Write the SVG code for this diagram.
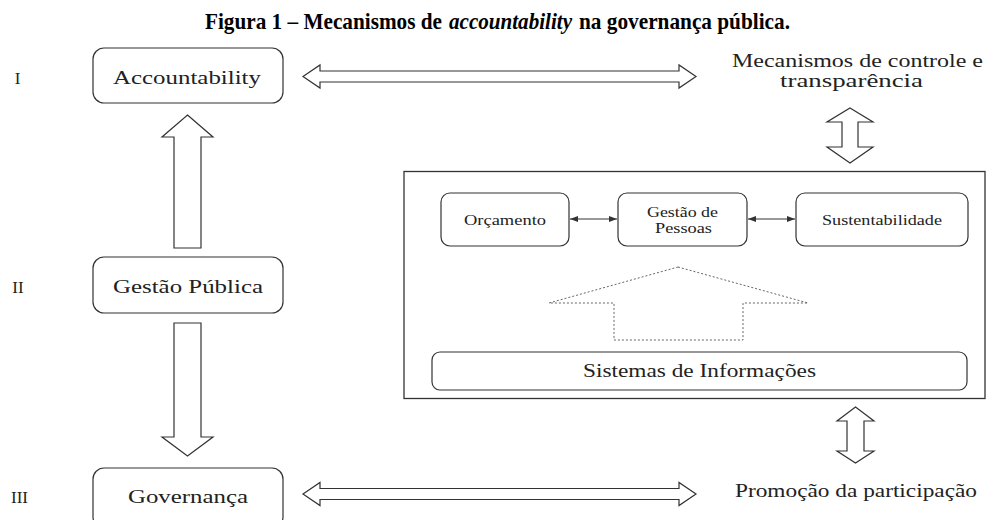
<svg xmlns="http://www.w3.org/2000/svg" width="992" height="520" viewBox="0 0 992 520">
<defs>
<style>
.t{font-family:"Liberation Serif","Times New Roman",serif;fill:#222;}
.ti{font-family:"Liberation Serif","Times New Roman",serif;fill:#000;font-size:23px;font-weight:bold;}
.box{fill:#fff;stroke:#333;stroke-width:1.2;}
.arr{fill:#fff;stroke:#333;stroke-width:1.2;stroke-linejoin:miter;}
.thin{stroke:#333;stroke-width:1;fill:none;}
.dot{fill:none;stroke:#666;stroke-width:1;stroke-dasharray:2 2;}
</style>
<marker id="ah" viewBox="0 0 8 6" refX="8" refY="3" markerWidth="8" markerHeight="6" markerUnits="userSpaceOnUse" orient="auto-start-reverse">
<path d="M0,0 L8,3 L0,6 Z" fill="#333"/>
</marker>
</defs>
<rect width="992" height="520" fill="#fff"/>
<g id="title">
<text class="ti" x="205" y="29" textLength="237" lengthAdjust="spacingAndGlyphs">Figura 1 – Mecanismos de</text>
<text class="ti" x="449" y="29" font-style="italic" textLength="123" lengthAdjust="spacingAndGlyphs">accountability</text>
<text class="ti" x="579" y="29" textLength="211" lengthAdjust="spacingAndGlyphs">na governança pública.</text>
</g>

<g id="labels">
<text class="t" x="17.5" y="84" text-anchor="middle" font-size="17">I</text>
<text class="t" x="18" y="293" text-anchor="middle" font-size="17">II</text>
<text class="t" x="19.5" y="503" text-anchor="middle" font-size="17">III</text>
</g>

<g id="connectors">
<path class="arr" d="M303,76.5 L320,65 L320,71 L679,71 L679,65 L696,76.5 L679,88 L679,82 L320,82 L320,88 Z"/>
<path class="arr" d="M303,494 L320,482.5 L320,488.5 L679,488.5 L679,482.5 L696,494 L679,505.5 L679,499.5 L320,499.5 L320,505.5 Z"/>
<path class="arr" d="M187.5,115 L213,137 L201,137 L201,248 L174,248 L174,137 L162,137 Z"/>
<path class="arr" d="M174,323 L201,323 L201,437 L213,437 L187.5,456 L162,437 L174,437 Z"/>
<path class="arr" d="M850,108 L873,122 L858,122 L858,147 L873,147 L850,163 L827,147 L842,147 L842,122 L827,122 Z"/>
<path class="arr" d="M855.5,407 L874,421 L864,421 L864,451 L874,451 L855.5,463 L837,451 L847,451 L847,421 L837,421 Z"/>
<line class="thin" x1="570" y1="219" x2="617" y2="219" marker-start="url(#ah)" marker-end="url(#ah)"/>
<line class="thin" x1="748" y1="219" x2="795" y2="219" marker-start="url(#ah)" marker-end="url(#ah)"/>
<path class="dot" d="M678,267 L808,303 L743,303 L743,340 L614,340 L614,303 L549,303 Z"/>
</g>

<g id="accountability">
<rect class="box" x="93" y="48" width="190" height="55" rx="11"/>
<text class="t" x="187" y="84" text-anchor="middle" font-size="19" textLength="148" lengthAdjust="spacingAndGlyphs">Accountability</text>
</g>
<g id="gestao-publica">
<rect class="box" x="93" y="257" width="190" height="56" rx="11"/>
<text class="t" x="188" y="293" text-anchor="middle" font-size="19" textLength="150" lengthAdjust="spacingAndGlyphs">Gestão Pública</text>
</g>
<g id="governanca">
<rect class="box" x="93" y="468" width="190" height="60" rx="11"/>
<text class="t" x="188" y="503" text-anchor="middle" font-size="19" textLength="120" lengthAdjust="spacingAndGlyphs">Governança</text>
</g>

<g id="mecanismos">
<text class="t" x="857.5" y="67" text-anchor="middle" font-size="18" textLength="251" lengthAdjust="spacingAndGlyphs">Mecanismos de controle e</text>
<text class="t" x="851.5" y="87" text-anchor="middle" font-size="18" textLength="143" lengthAdjust="spacingAndGlyphs">transparência</text>
</g>
<g id="promocao">
<text class="t" x="856" y="497" text-anchor="middle" font-size="18" textLength="242" lengthAdjust="spacingAndGlyphs">Promoção da participação</text>
</g>

<g id="container">
<rect x="404" y="171.5" width="581" height="227" fill="none" stroke="#333" stroke-width="1.3"/>
</g>
<g id="orcamento">
<rect class="box" x="441" y="193" width="128" height="53" rx="9"/>
<text class="t" x="505" y="225" text-anchor="middle" font-size="15" textLength="82" lengthAdjust="spacingAndGlyphs">Orçamento</text>
</g>
<g id="gestao-pessoas">
<rect class="box" x="618" y="193" width="129" height="53" rx="9"/>
<text class="t" x="682.5" y="217" text-anchor="middle" font-size="15" textLength="71" lengthAdjust="spacingAndGlyphs">Gestão de</text>
<text class="t" x="683.5" y="233" text-anchor="middle" font-size="15" textLength="57" lengthAdjust="spacingAndGlyphs">Pessoas</text>
</g>
<g id="sustentabilidade">
<rect class="box" x="796" y="193" width="172" height="53" rx="9"/>
<text class="t" x="882" y="225" text-anchor="middle" font-size="15" textLength="120" lengthAdjust="spacingAndGlyphs">Sustentabilidade</text>
</g>
<g id="sistemas">
<rect class="box" x="432" y="352" width="535" height="38" rx="8" stroke="#555"/>
<text class="t" x="699.5" y="377" text-anchor="middle" font-size="18" textLength="233" lengthAdjust="spacingAndGlyphs">Sistemas de Informações</text>
</g>
</svg>
